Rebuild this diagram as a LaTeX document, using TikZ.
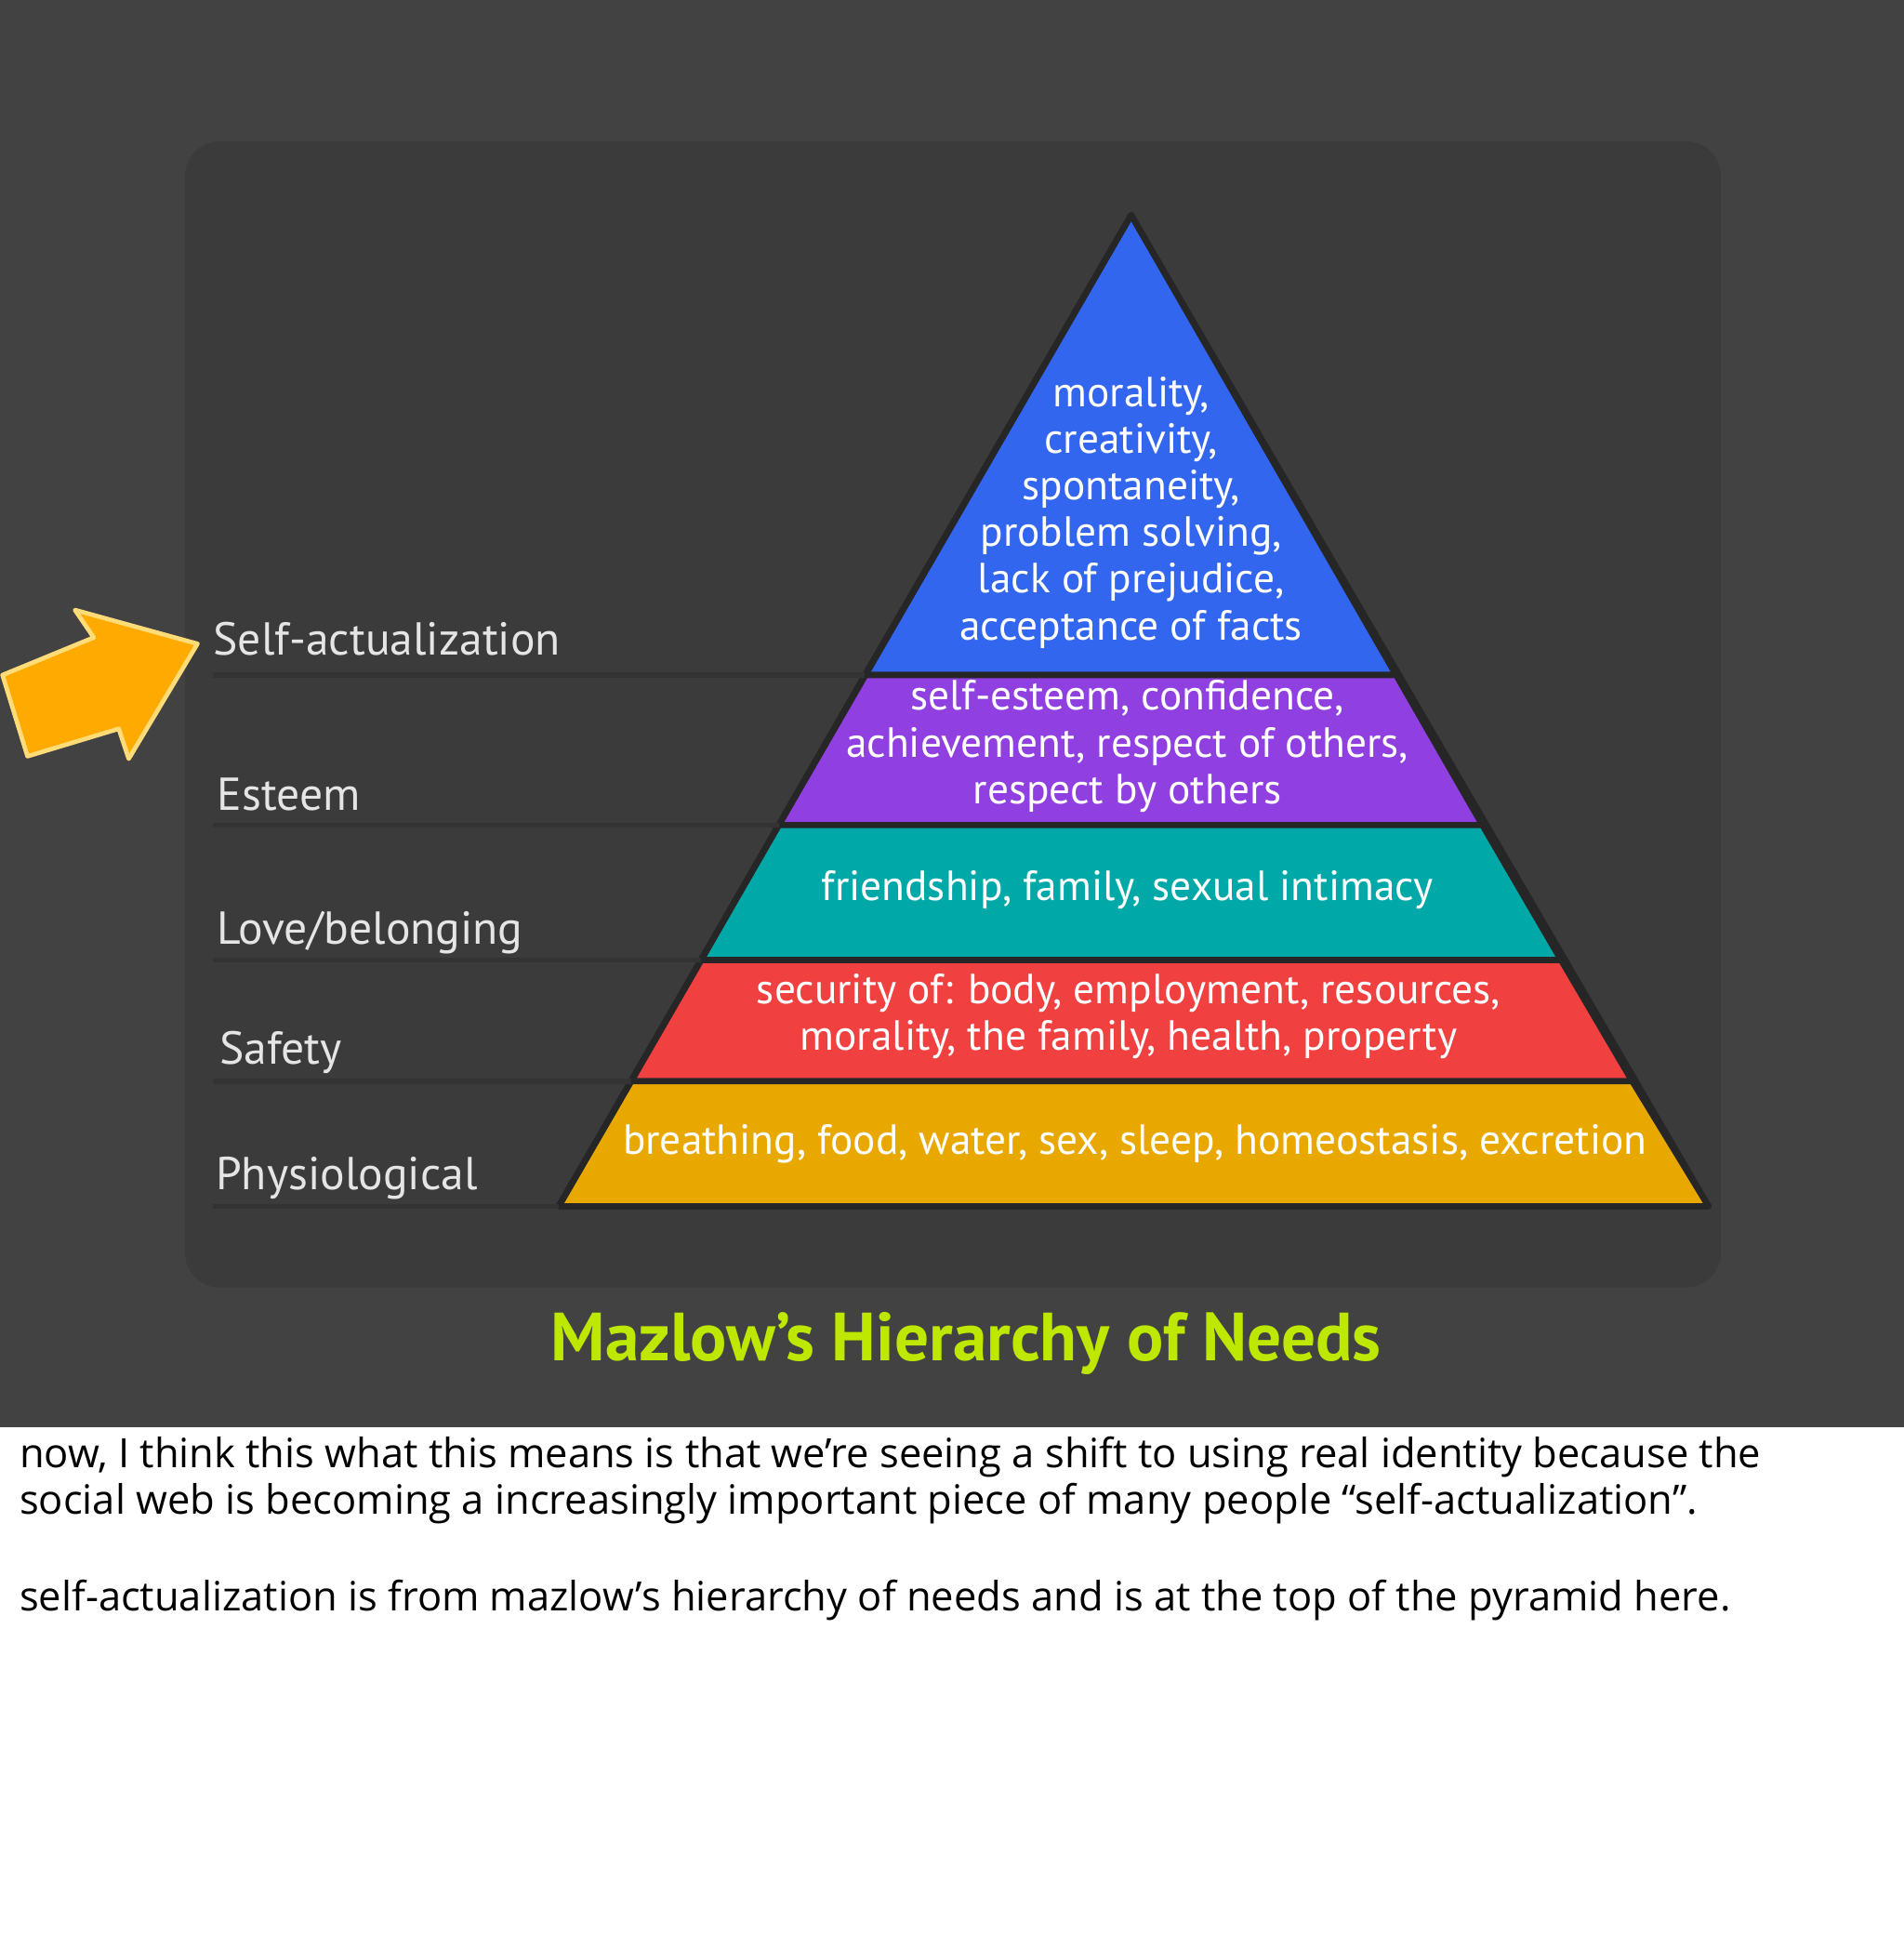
\documentclass[tikz,border=0pt]{standalone}
\usepackage{fontspec}
\setmainfont{Open Sans}
\newfontfamily\lab{PT Sans}
\begin{document}
\begin{tikzpicture}[x=0.01cm,y=-0.01cm,
 lbl/.style={anchor=base west,text=white!90!black,font=\lab\fontsize{10.5}{12}\selectfont,inner sep=0},
 ptxt/.style={align=center,text=white,font=\lab\fontsize{9.6}{10.6}\selectfont,inner sep=0},
 band/.style={draw=black!85,line width=1.4pt,line join=round},
 hl/.style={draw=black!80,line width=1.1pt},
 btxt/.style={anchor=base west,inner sep=0,font=\fontsize{9.2}{11}\selectfont}]
\useasboundingbox (0,0) rectangle (1523,1568);
\fill[white] (0,0) rectangle (1523,1568);
\fill[black!74] (0,0) rectangle (1523,1142);
\fill[black!77,rounded corners=8] (148,113) rectangle (1377,1030);
% pyramid
\coordinate (A) at (905,172);
\fill[band,fill={rgb,255:red,51;green,102;blue,238}] (A) -- (692,540) -- (1117,540) -- cycle;
\fill[band,fill={rgb,255:red,144;green,64;blue,224}] (692,540) -- (623,660) -- (1186,660) -- (1117,540) -- cycle;
\fill[band,fill={rgb,255:red,0;green,168;blue,168}] (623,660) -- (561,768) -- (1249,768) -- (1186,660) -- cycle;
\fill[band,fill={rgb,255:red,240;green,64;blue,64}] (561,768) -- (505,865) -- (1306,865) -- (1249,768) -- cycle;
\fill[band,fill={rgb,255:red,232;green,168;blue,0}] (505,865) -- (447,965) -- (1367,965) -- (1306,865) -- cycle;
\draw[band,fill=none] (A) -- (447,965) -- (1367,965) -- cycle;
% lines
\draw[hl] (170,540) -- (692,540);
\draw[hl] (170,660) -- (623,660);
\draw[hl] (170,768) -- (561,768);
\draw[hl] (170,865) -- (505,865);
\draw[hl] (170,965) -- (447,965);
% labels
\node[lbl] (l1) at (170,524) {Self-actualization};
\node[lbl] (l2) at (173,648) {Esteem};
\node[lbl] (l3) at (173,755) {Love/belonging};
\node[lbl] (l4) at (175,851) {Safety};
\node[lbl] (l5) at (172,952) {Physiological};
% pyramid texts
\node[ptxt] (t1) at (905,410) {morality,\\creativity,\\spontaneity,\\problem solving,\\lack of prejudice,\\acceptance of facts};
\node[ptxt] (t2) at (902,597) {self-esteem, confidence,\\achievement, respect of others,\\respect by others};
\node[ptxt] (t3) at (902,712) {friendship, family, sexual intimacy};
\node[ptxt] (t4) at (903,813) {security of: body, employment, resources,\\morality, the family, health, property};
\node[ptxt] (t5) at (908,915) {breathing, food, water, sex, sleep, homeostasis, excretion};
% arrow
\filldraw[fill={rgb,255:red,255;green,170;blue,0},draw={rgb,255:red,255;green,220;blue,120},line width=1pt,line join=round]
 (2,540) -- (75,510) -- (60,488) -- (158,515) -- (103,607) -- (95,583) -- (22,605) -- cycle;
% title
\node[font=\lab\bfseries\fontsize{15.5}{18}\selectfont,text={rgb,255:red,190;green,232;blue,0}] (title) at (773,1075) {Mazlow’s Hierarchy of Needs};
% bottom text
\node[btxt] (b1) at (15,1174) {now, I think this what this means is that we’re seeing a shift to using real identity because the};
\node[btxt] (b2) at (15,1211) {social web is becoming a increasingly important piece of many people “self-actualization”.};
\node[btxt] (b3) at (15,1289) {self-actualization is from mazlow’s hierarchy of needs and is at the top of the pyramid here.};
\end{tikzpicture}
\end{document}
